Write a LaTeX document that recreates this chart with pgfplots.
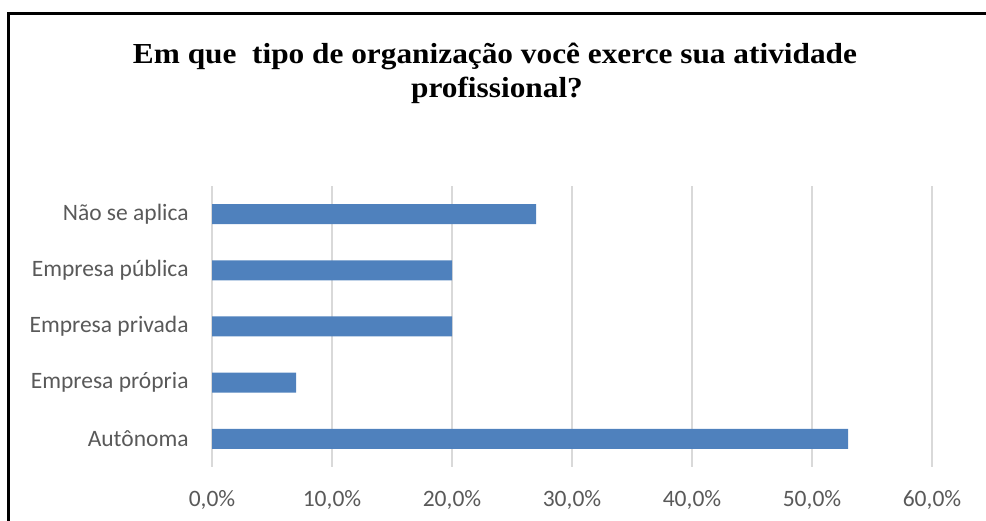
\documentclass[border=0pt]{standalone}
\usepackage{pgfplots}
\pgfplotsset{compat=1.18}
\usepackage{fontspec}
\setmainfont{Carlito}
\newfontface\titlefont{Liberation Serif Bold}[FakeStretch=1.08]
\definecolor{barblue}{HTML}{4F81BD}
\definecolor{gridgray}{HTML}{D9D9D9}
\definecolor{labelgray}{HTML}{595959}
\begin{document}
\begin{tikzpicture}[x=1bp,y=1bp]
\useasboundingbox (0,0) rectangle (986,521);
\begin{scope}
\clip (0,0) rectangle (986,521);
\draw[line width=2.6bp] (8.7,-10) -- (8.7,507.5) -- (1000,507.5);
\end{scope}
\node[anchor=base, font=\titlefont\fontsize{29bp}{33bp}\selectfont] at (495,457) {Em que\ \ tipo de organização você exerce sua atividade};
\node[anchor=base, font=\titlefont\fontsize{29bp}{33bp}\selectfont] at (497,423) {profissional?};
\begin{axis}[
  at={(212bp,54bp)}, anchor=south west,
  scale only axis, width=720bp, height=281bp,
  xbar, bar width=20bp,
  xmin=0, xmax=60, ymin=-0.5, ymax=4.5,
  xtick={0,10,20,30,40,50,60},
  xticklabels={{0,0\%},{10,0\%},{20,0\%},{30,0\%},{40,0\%},{50,0\%},{60,0\%}},
  ytick={0,1,2,3,4},
  yticklabels={Autônoma,Empresa própria,Empresa privada,Empresa pública,Não se aplica},
  xmajorgrids, major grid style={gridgray, line width=1.5bp},
  axis line style={draw=none},
  tick style={draw=none},
  ticklabel style={font=\fontsize{23.5bp}{28bp}\selectfont, text=labelgray, inner sep=0pt},
  xticklabel style={anchor=base, yshift=-40bp},
  yticklabel style={anchor=east, xshift=-19bp},
]
\addplot[fill=barblue, draw=none] coordinates {(53,0) (7,1) (20,2) (20,3) (27,4)};
\end{axis}
\end{tikzpicture}
\end{document}
